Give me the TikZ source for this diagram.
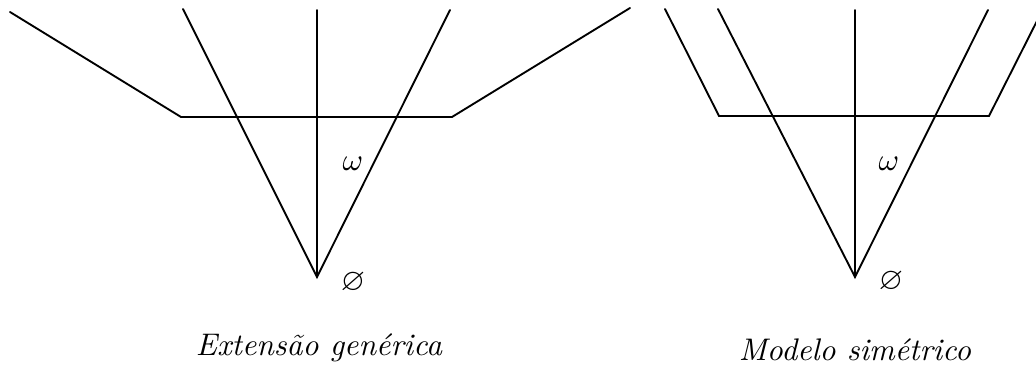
\documentclass[tikz,border=0pt]{standalone}
\usepackage{fontspec}
\usepackage{amsmath}
\usepackage{amssymb}
\usepackage{tikz}
\usetikzlibrary{positioning}
\tikzset{
  ray/.style={line width=0.6pt,color=black,line cap=round},
  lbl/.style={font=\normalsize,inner sep=0pt},
  caption/.style={font=\normalsize\itshape,inner sep=0pt},
}

\begin{document}
\begin{tikzpicture}[x=0.32pt,y=-0.32pt]
  \clip (0,0) rectangle (1036,369);
  % Left picture
  \coordinate (GA)   at (317,277);
  \coordinate (GV)   at (317,10);
  \coordinate (GL)   at (183,9);
  \coordinate (GR)   at (450,10);
  \coordinate (GHL)  at (181,117);
  \coordinate (GHR)  at (452,117);
  \coordinate (GOL)  at (10,12);
  \coordinate (GOR)  at (630,8);
  \node[lbl](GW)     at (353,164) {$\omega$};
  \node[lbl](GE)     at (353,283) {$\varnothing$};
  \node[caption](GC) at (319,348) {Extensão genérica};
  % Right picture
  \coordinate (SA)   at (855,277);
  \coordinate (SV)   at (855,10);
  \coordinate (SL)   at (718,9);
  \coordinate (SR)   at (988,10);
  \coordinate (SHL)  at (719,116);
  \coordinate (SHR)  at (989,116);
  \coordinate (SOL)  at (665,9);
  \coordinate (SOR)  at (1043,9);
  \node[lbl](SW)     at (889,164) {$\omega$};
  \node[lbl](SE)     at (891,282) {$\varnothing$};
  \node[caption](SC) at (855,350) {Modelo simétrico};

  % Lines left
  \draw[ray](GA) -- (GV);
  \draw[ray](GL) -- (GA) -- (GR);
  \draw[ray](GOL) -- (GHL) -- (GHR) -- (GOR);

  % Lines right
  \draw[ray](SA) -- (SV);
  \draw[ray](SL) -- (SA) -- (SR);
  \draw[ray](SOL) -- (SHL) -- (SHR) -- (SOR);
\end{tikzpicture}
\end{document}
